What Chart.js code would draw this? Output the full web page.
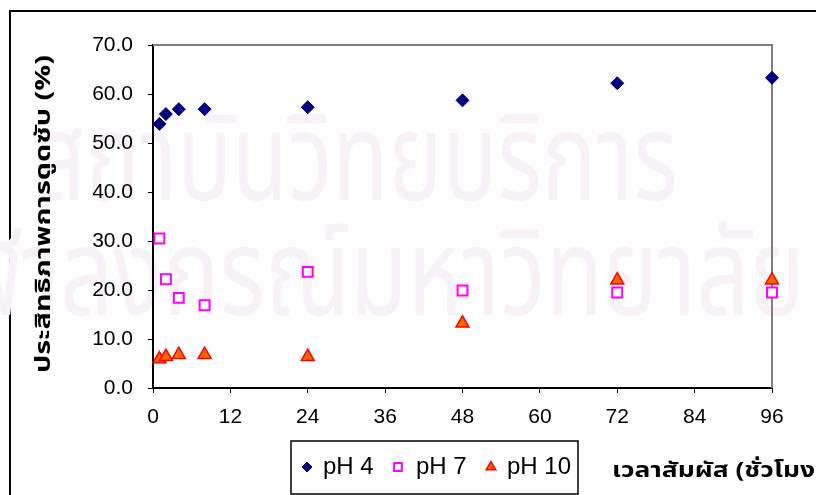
<!DOCTYPE html>
<html>
<head>
<meta charset="utf-8">
<script src="https://cdn.jsdelivr.net/npm/chart.js@4"></script>
<style>
  html, body { margin: 0; padding: 0; background: #fff; overflow: hidden; }
  #wrap { position: relative; width: 816px; height: 495px; overflow: hidden; }
  #frame {
    position: absolute; left: 9px; top: 10px; width: 900px; height: 600px;
    border-left: 2px solid #000; border-top: 2px solid #000;
  }
  canvas { position: absolute; left: 0; top: 0; }
</style>
</head>
<body>
<div id="wrap">
  <div id="frame"></div>
  <canvas id="chart" width="816" height="495"></canvas>
</div>
<script>
  // contact time (hours)
  const hours = [1, 2, 4, 8, 24, 48, 72, 96];
  // adsorption efficiency (%)
  const ph4 = [53.9, 55.9, 56.9, 56.9, 57.3, 58.7, 62.2, 63.3];
  const ph7 = [30.5, 22.2, 18.4, 16.9, 23.7, 19.9, 19.5, 19.5];
  const ph10 = [5.9, 6.4, 6.8, 6.8, 6.4, 13.2, 22.0, 22.0];

  const seriesNames = ["pH 4", "pH 7", "pH 10"];
  const xTitle = "เวลาสัมผัส (ชั่วโมง)";
  const yTitle = "ประสิทธิภาพการดูดซับ (%)";
  const watermark = ["สถาบันวิทยบริการ", "จุฬาลงกรณ์มหาวิทยาลัย"];

  const thaiFont = '"Noto Sans Thai", "Loma", "Garuda", "Norasi", "Tlwg Typo", "DejaVu Sans", sans-serif';
  const latinFont = '"Liberation Sans", Arial, sans-serif';

  const toPoints = (ys) => hours.map((h, i) => ({ x: h, y: ys[i] }));

  // draw text squeezed/stretched along its run to a given length
  const fitText = (ctx, text, x, y, len) => {
    const w = ctx.measureText(text).width;
    ctx.save();
    ctx.translate(x, y);
    ctx.scale(len / w, 1);
    ctx.fillText(text, 0, 0);
    ctx.restore();
  };

  const decor = {
    id: "decor",
    beforeDraw(chart) {
      const ctx = chart.ctx;
      ctx.save();
      ctx.fillStyle = "#f8f1f8";
      ctx.textBaseline = "alphabetic";
      ctx.textAlign = "left";
      ctx.font = "122px " + thaiFont;
      fitText(ctx, watermark[0], 33, 200, 645);
      fitText(ctx, watermark[1], -90, 315, 895);
      ctx.restore();
    },
    beforeDatasetsDraw(chart) {
      const { ctx, chartArea: a } = chart;
      ctx.save();
      ctx.strokeStyle = "#808080";
      ctx.lineWidth = 2;
      ctx.beginPath();
      ctx.moveTo(a.left, a.top);
      ctx.lineTo(a.right, a.top);
      ctx.lineTo(a.right, a.bottom);
      ctx.stroke();
      ctx.restore();
    },
    afterDraw(chart) {
      const ctx = chart.ctx;
      ctx.save();
      // y axis title
      ctx.translate(46, 214);
      ctx.rotate(-Math.PI / 2);
      ctx.font = "bold 22px " + thaiFont;
      ctx.fillStyle = "#000";
      ctx.textAlign = "left";
      ctx.textBaseline = "middle";
      fitText(ctx, yTitle, -159, 0, 318);
      ctx.restore();

      ctx.save();
      ctx.font = "bold 21px " + thaiFont;
      ctx.fillStyle = "#000";
      ctx.textAlign = "left";
      ctx.textBaseline = "alphabetic";
      fitText(ctx, xTitle, 612, 477, 212);
      ctx.restore();

      // legend box
      ctx.save();
      ctx.strokeStyle = "#000";
      ctx.lineWidth = 1.5;
      ctx.fillStyle = "#fff";
      ctx.fillRect(291, 441, 287, 53);
      ctx.strokeRect(291, 441, 287, 53);
      const markerX = [307, 398, 491];
      const textX = [323, 416, 507];
      ctx.font = "24px " + latinFont;
      ctx.textBaseline = "middle";
      ctx.textAlign = "left";
      chart.data.datasets.forEach((ds, i) => {
        ctx.fillStyle = ds.backgroundColor;
        ctx.strokeStyle = ds.borderColor;
        ctx.lineWidth = ds.borderWidth;
        Chart.helpers.drawPoint(ctx, { pointStyle: ds.pointStyle, radius: ds.legendRadius, borderWidth: ds.borderWidth }, markerX[i], 467);
        ctx.fillStyle = "#000";
        ctx.fillText(ds.label, textX[i], 467);
      });
      ctx.restore();
    },
  };

  new Chart(document.getElementById("chart"), {
    type: "scatter",
    data: {
      datasets: [
        {
          label: seriesNames[0],
          data: toPoints(ph4),
          pointStyle: "rectRot",
          pointRadius: 6.5,
          legendRadius: 5,
          backgroundColor: "#000080",
          borderColor: "#000080",
          borderWidth: 1,
          clip: false,
        },
        {
          label: seriesNames[1],
          data: toPoints(ph7),
          pointStyle: "rect",
          pointRadius: 7,
          legendRadius: 5.5,
          backgroundColor: "#ffffff",
          borderColor: "#ff00ff",
          borderWidth: 2,
          clip: false,
        },
        {
          label: seriesNames[2],
          data: toPoints(ph10),
          pointStyle: "triangle",
          pointRadius: 7.5,
          legendRadius: 5.5,
          backgroundColor: "#ff6600",
          borderColor: "#ff0000",
          borderWidth: 1.5,
          clip: false,
        },
      ],
    },
    options: {
      responsive: false,
      animation: false,
      layout: {
        padding: { top: 45, right: 44, left: 0, bottom: 0 },
      },
      plugins: {
        legend: { display: false },
        tooltip: { enabled: false },
      },
      scales: {
        x: {
          type: "linear",
          min: 0,
          max: 96,
          afterFit: (s) => { s.height = 107; },
          border: { color: "#000", width: 2 },
          grid: { drawOnChartArea: false, tickLength: 5, color: "#000", lineWidth: 1 },
          ticks: {
            stepSize: 12,
            padding: 12,
            color: "#000",
            font: { family: latinFont, size: 21 },
            maxRotation: 0,
          },
        },
        y: {
          min: 0,
          max: 70,
          afterFit: (s) => { s.width = 153; },
          border: { color: "#000", width: 2 },
          grid: { drawOnChartArea: false, tickLength: 5, color: "#000", lineWidth: 1 },
          ticks: {
            stepSize: 10,
            padding: 15,
            color: "#000",
            font: { family: latinFont, size: 21 },
            callback: (v) => v.toFixed(1),
          },
        },
      },
    },
    plugins: [decor],
  });
</script>
</body>
</html>
